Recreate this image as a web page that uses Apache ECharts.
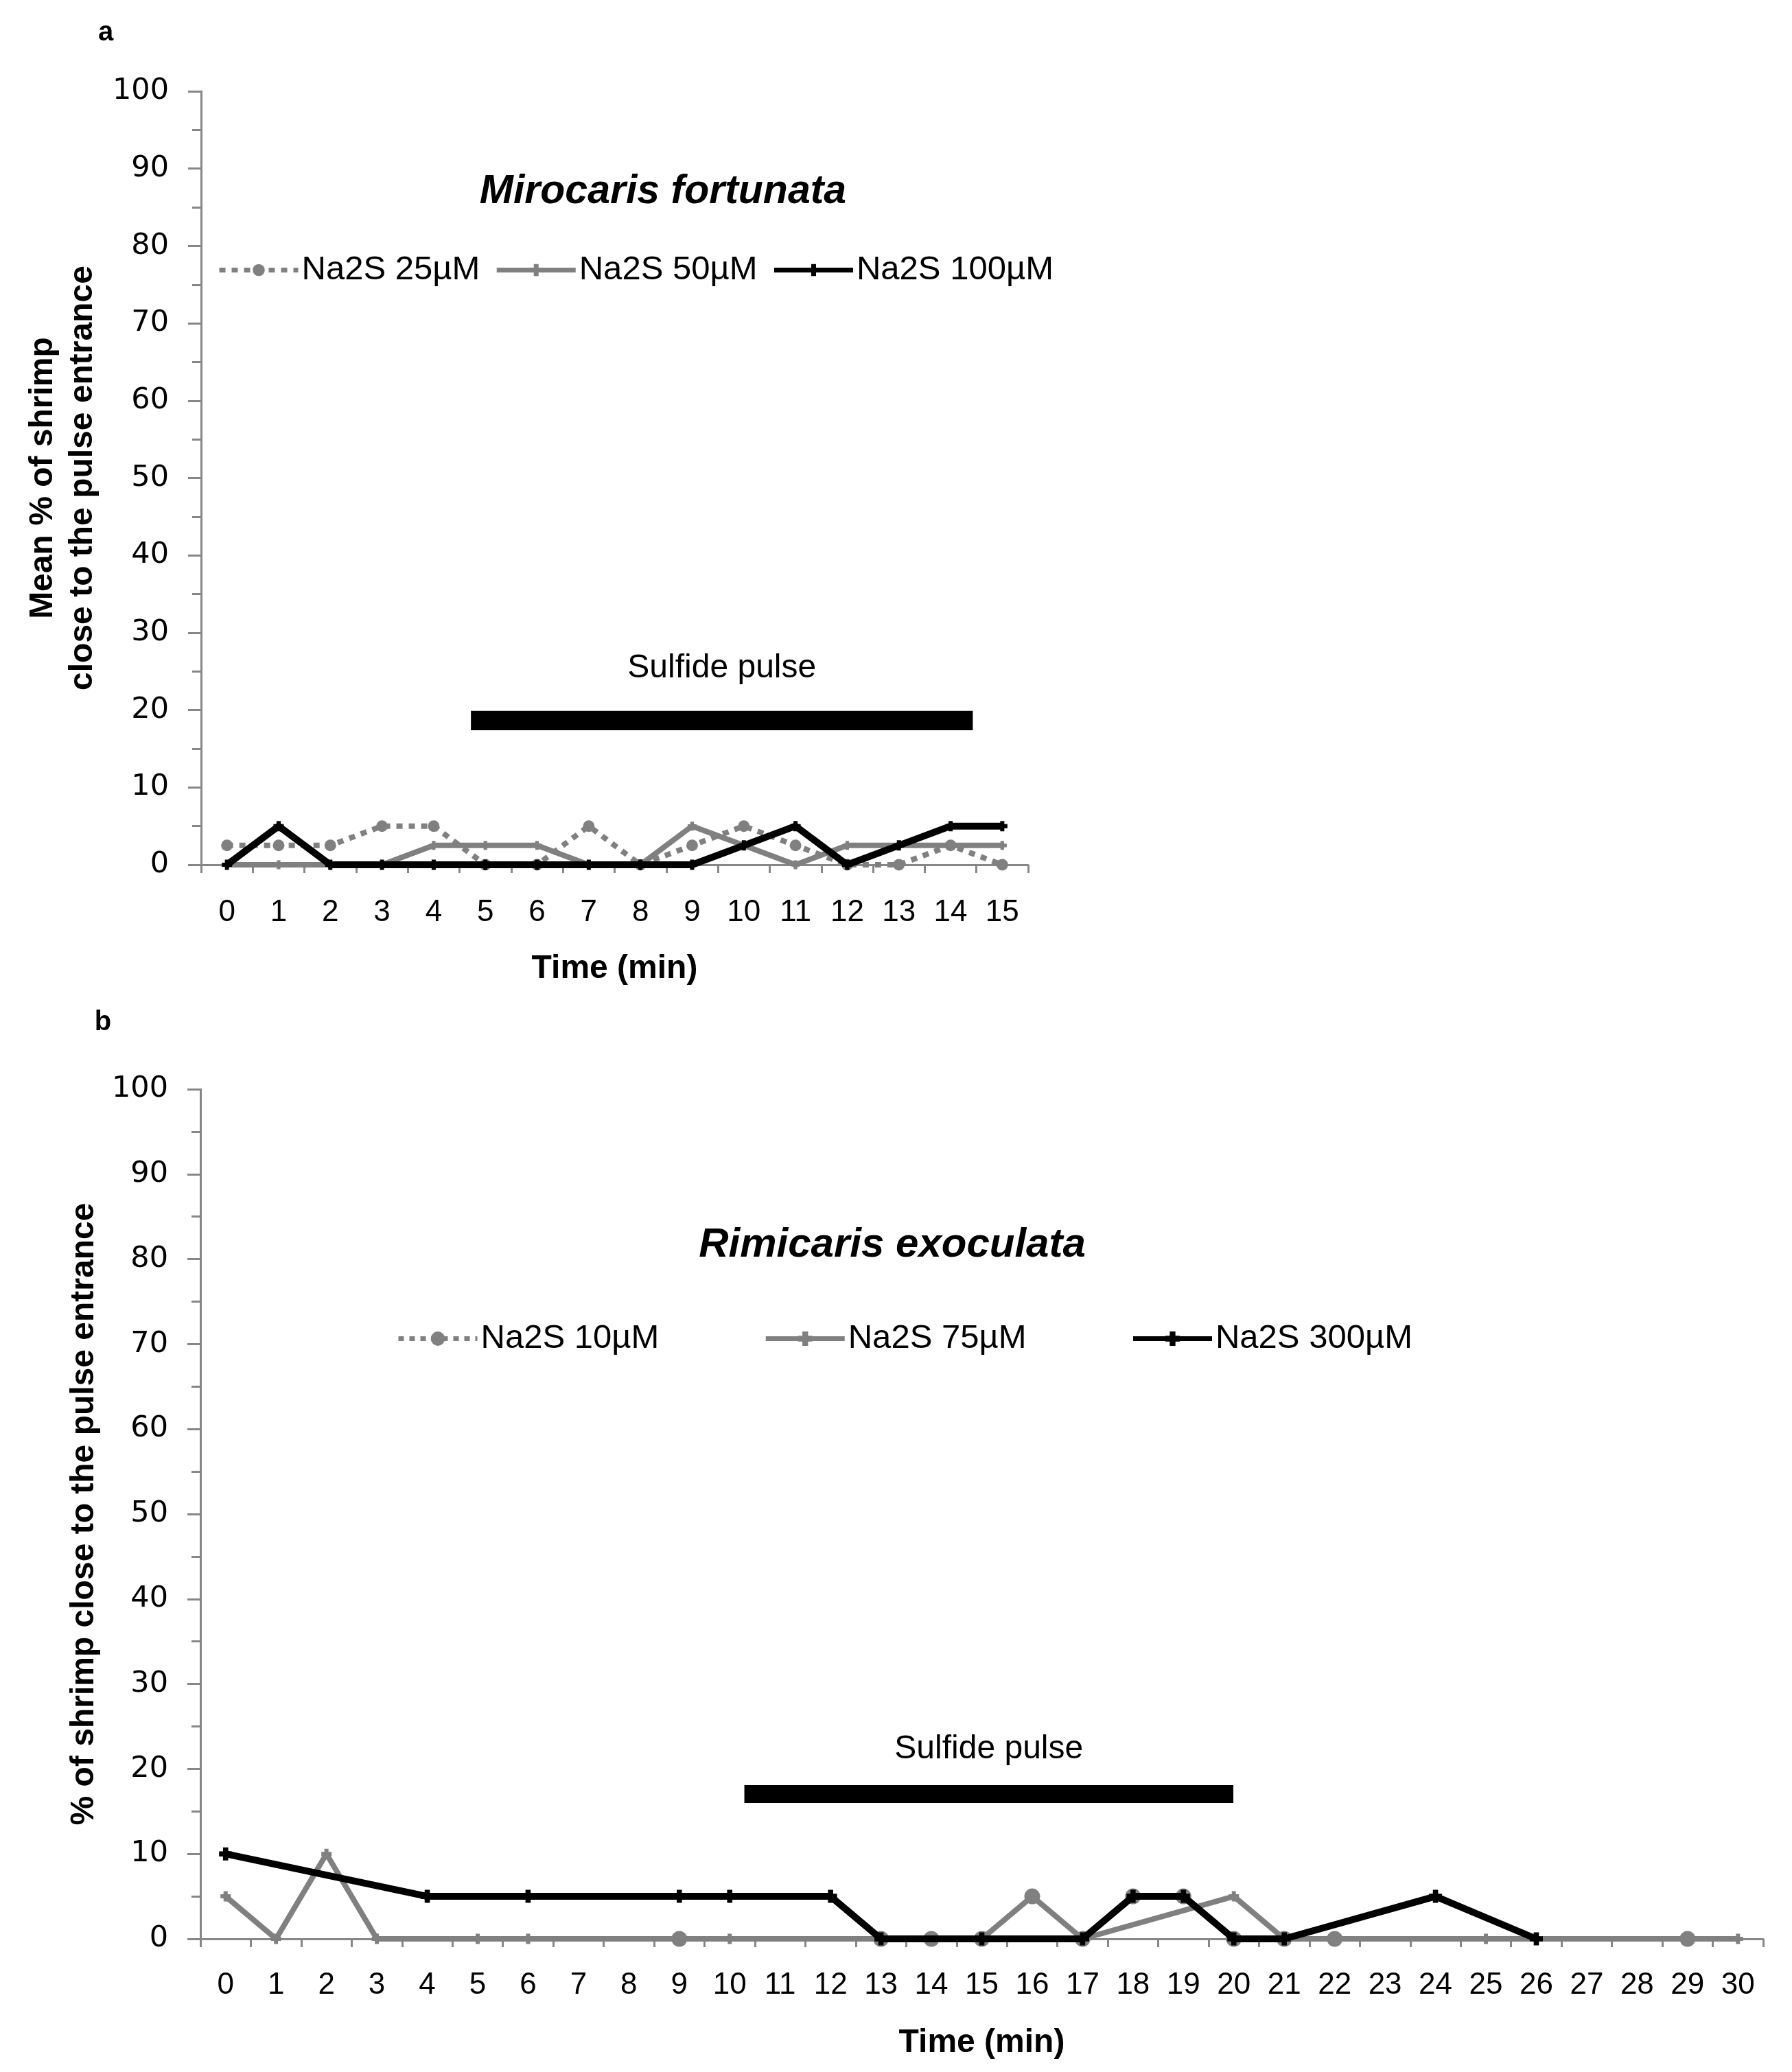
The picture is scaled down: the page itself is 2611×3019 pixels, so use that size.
<!DOCTYPE html>
<html>
<head>
<meta charset="utf-8">
<script src="https://cdn.jsdelivr.net/npm/echarts@6/dist/echarts.min.js"></script>
<style>html,body{margin:0;padding:0;background:#fff;}#c{width:2611px;height:3019px;}</style>
</head>
<body>
<div id="c"></div>
<script>
// ---- data ----
const timeA = ['0','1','2','3','4','5','6','7','8','9','10','11','12','13','14','15'];
const timeB = ['0','1','2','3','4','5','6','7','8','9','10','11','12','13','14','15','16','17','18','19','20','21','22','23','24','25','26','27','28','29','30'];
const yTicks = [0,10,20,30,40,50,60,70,80,90,100];

const namesA = ['Na2S 25µM','Na2S 50µM','Na2S 100µM'];
const a25  = [2.5,2.5,2.5,5,5,0,0,5,0,2.5,5,2.5,0,0,2.5,0];
const a50  = [0,0,0,0,2.5,2.5,2.5,0,0,5,2.5,0,2.5,2.5,2.5,2.5];
const a100 = [0,5,0,0,0,0,0,0,0,0,2.5,5,0,2.5,5,5];

const namesB = ['Na2S 10µM','Na2S 75µM','Na2S 300µM'];
const b10  = [null,null,null,null,null,null,null,null,null,0,null,null,null,0,0,0,5,0,5,5,0,0,0,null,null,null,null,null,null,0,null];
const b75  = [5,0,10,0,null,0,0,null,null,null,0,null,null,null,null,0,5,0,null,null,5,0,null,null,null,0,null,null,null,null,0];
const b300 = [10,null,null,null,5,null,5,null,null,5,5,null,5,0,null,0,null,0,5,5,0,0,null,null,5,null,0,null,null,null,null];

// pulse bars: [xStart, xEnd, yLow, yHigh] in category-index units
const pulseA = [[4.72, 14.43, 17.4, 19.9]];
const pulseB = [[10.29, 19.99, 16.0, 18.1]];
const pulseLabel = 'Sulfide pulse';

// ---- styles ----
const FONT = '"Liberation Sans", Arial, sans-serif';
const GREY = '#808080';
const AXIS = '#878787';
const PLUS = 'path://M3,0H7V3H10V7H7V10H3V7H0V3H3Z';

const chart = echarts.init(document.getElementById('c'));

function yAxisDef(gridIndex, name, nameGap) {
  return {
    type: 'value', gridIndex, min: 0, max: 100, interval: 10,
    name, nameLocation: 'middle', nameGap, nameRotate: 90,
    nameTextStyle: {fontFamily: FONT, fontWeight: 'bold', fontSize: 48, color: '#000', lineHeight: 58},
    axisLine: {show: true, onZero: false, lineStyle: {color: AXIS, width: 3}},
    axisTick: {show: true, length: 19, lineStyle: {color: AXIS, width: 3}},
    minorTick: {show: true, splitNumber: 2, length: 13, lineStyle: {color: AXIS, width: 3}},
    splitLine: {show: false},
    axisLabel: {fontFamily: '"DejaVu Sans", sans-serif', fontSize: 43, color: '#000', margin: 47,
      customValues: yTicks}
  };
}
function xAxisDef(gridIndex, data, margin, nameGap) {
  return {
    type: 'category', gridIndex, data, boundaryGap: true,
    name: 'Time (min)', nameLocation: 'middle', nameGap,
    nameTextStyle: {fontFamily: FONT, fontWeight: 'bold', fontSize: 48, color: '#000'},
    axisLine: {show: true, onZero: false, lineStyle: {color: AXIS, width: 3}},
    axisTick: {show: true, length: 12, alignWithLabel: false, lineStyle: {color: AXIS, width: 3}},
    axisLabel: {fontFamily: FONT, fontSize: 44, color: '#000', margin, interval: 0},
    splitLine: {show: false}
  };
}
function pulseSeries(xAxisIndex, yAxisIndex, data, labelGap) {
  return {
    type: 'custom', xAxisIndex, yAxisIndex, data, silent: true, z: 1,
    renderItem: function (params, api) {
      const p0 = api.coord([api.value(0), api.value(3)]);
      const p1 = api.coord([api.value(1), api.value(2)]);
      return {type: 'group', children: [
        {type: 'rect', shape: {x: p0[0], y: p0[1], width: p1[0] - p0[0], height: p1[1] - p0[1]}, style: {fill: '#000'}},
        {type: 'text', style: {text: pulseLabel, x: (p0[0] + p1[0]) / 2, y: p0[1] - labelGap,
          align: 'center', verticalAlign: 'middle', font: '48px ' + FONT, fill: '#000'}}
      ]};
    }
  };
}

const option = {
  backgroundColor: '#fff',
  animation: false,
  grid: [
    {left: 293, top: 133, width: 1205, height: 1127},
    {left: 292, top: 1587, width: 2277, height: 1238}
  ],
  xAxis: [
    xAxisDef(0, timeA, 48, 128),
    xAxisDef(1, timeB, 46, 128),
    {type: 'value', gridIndex: 0, min: -0.5, max: 15.5, show: false},
    {type: 'value', gridIndex: 1, min: -0.5, max: 30.5, show: false}
  ],
  yAxis: [
    yAxisDef(0, 'Mean % of shrimp\nclose to the pulse entrance', 143),
    yAxisDef(1, '% of shrimp close to the pulse entrance', 137)
  ],
  legend: [
    {data: namesA, left: 311, top: 364, itemWidth: 115, itemHeight: 22, itemGap: 21,
      lineStyle: {width: 7}, textStyle: {fontFamily: FONT, fontSize: 49, color: '#000'}},
    {data: namesB, left: 572, top: 1921, itemWidth: 115, itemHeight: 26, itemGap: 152,
      lineStyle: {width: 7}, textStyle: {fontFamily: FONT, fontSize: 49, color: '#000'}}
  ],
  graphic: [
    {type: 'text', x: 154, y: 48, style: {text: 'a', font: 'bold 40px ' + FONT, fill: '#000', align: 'center', verticalAlign: 'middle'}},
    {type: 'text', x: 150, y: 1490, style: {text: 'b', font: 'bold 40px ' + FONT, fill: '#000', align: 'center', verticalAlign: 'middle'}},
    {type: 'text', x: 966, y: 280, style: {text: 'Mirocaris fortunata', font: 'italic bold 59px ' + FONT, fill: '#000', align: 'center', verticalAlign: 'middle'}},
    {type: 'text', x: 1300, y: 1814, style: {text: 'Rimicaris exoculata', font: 'italic bold 60px ' + FONT, fill: '#000', align: 'center', verticalAlign: 'middle'}}
  ],
  series: [
    pulseSeries(2, 0, pulseA, 62),
    {name: namesA[0], type: 'line', xAxisIndex: 0, yAxisIndex: 0, data: a25, connectNulls: true,
      symbol: 'circle', symbolSize: 17, itemStyle: {color: GREY},
      lineStyle: {color: GREY, width: 8, type: [9, 9]}, z: 2},
    {name: namesA[1], type: 'line', xAxisIndex: 0, yAxisIndex: 0, data: a50, connectNulls: true,
      symbol: PLUS, symbolSize: 13, itemStyle: {color: GREY},
      lineStyle: {color: GREY, width: 8}, z: 3},
    {name: namesA[2], type: 'line', xAxisIndex: 0, yAxisIndex: 0, data: a100, connectNulls: true,
      symbol: PLUS, symbolSize: 15, itemStyle: {color: '#000'},
      lineStyle: {color: '#000', width: 10}, z: 4},

    pulseSeries(3, 1, pulseB, 52),
    {name: namesB[0], type: 'line', xAxisIndex: 1, yAxisIndex: 1, data: b10, connectNulls: true,
      symbol: 'circle', symbolSize: 23, itemStyle: {color: GREY},
      lineStyle: {color: GREY, width: 7, type: [8, 8]}, z: 2},
    {name: namesB[1], type: 'line', xAxisIndex: 1, yAxisIndex: 1, data: b75, connectNulls: true,
      symbol: PLUS, symbolSize: 15, itemStyle: {color: GREY},
      lineStyle: {color: GREY, width: 8}, z: 3},
    {name: namesB[2], type: 'line', xAxisIndex: 1, yAxisIndex: 1, data: b300, connectNulls: true,
      symbol: PLUS, symbolSize: 19, itemStyle: {color: '#000'},
      lineStyle: {color: '#000', width: 10}, z: 4}
  ]
};
chart.setOption(option);
</script>
</body>
</html>
